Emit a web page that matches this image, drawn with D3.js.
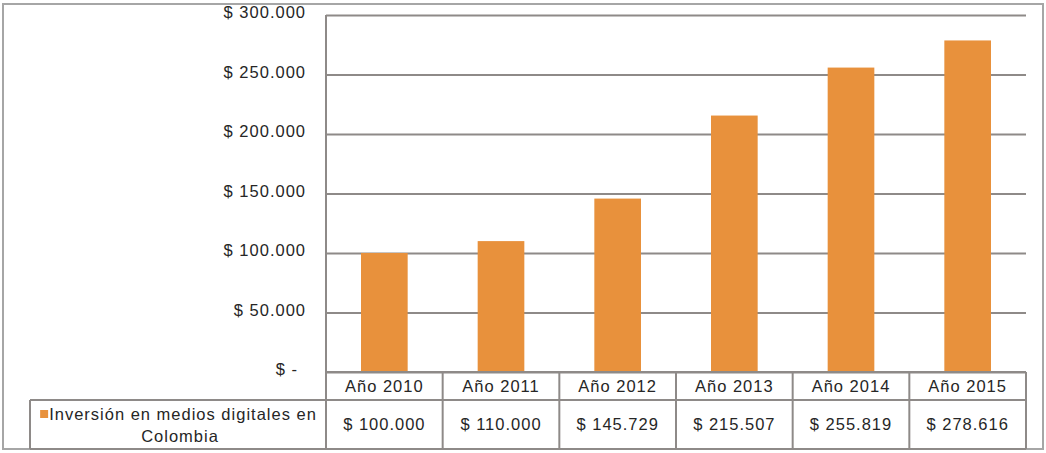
<!DOCTYPE html>
<html>
<head>
<meta charset="utf-8">
<script src="https://cdn.jsdelivr.net/npm/d3@7"></script>
<style>
  body { margin: 0; background: #fff; }
  text { font-family: "Liberation Sans", Arial, sans-serif; fill: #262626; letter-spacing: 1px; }
</style>
</head>
<body>
<svg id="chart" width="1046" height="453"></svg>
<script>
// data
const years = ["Año 2010", "Año 2011", "Año 2012", "Año 2013", "Año 2014", "Año 2015"];
const inversion = [100000, 110000, 145729, 215507, 255819, 278616];
const yTicks = [0, 50000, 100000, 150000, 200000, 250000, 300000];
const seriesName = ["Inversión en medios digitales en", "Colombia"];

const svg = d3.select("#chart");
const margin = { top: 15, left: 326, right: 1026, base: 372 };
const tableMid = 400, tableBottom = 449, legendLeft = 30;
const lineColor = "#8e8a88";
const barColor = "#E8913C";
const fontSize = 16.5;

const locale = d3.formatLocale({ decimal: ",", thousands: ".", grouping: [3], currency: ["$ ", ""] });
const money = locale.format("$,.0f");
const fmt = v => v === 0 ? "$ -" : money(v);

// outer frame
svg.append("rect")
  .attr("x", 3).attr("y", 4)
  .attr("width", 1040).attr("height", 445)
  .attr("fill", "none")
  .attr("stroke", "#a6a6a6")
  .attr("stroke-width", 2);

//scales
const x = d3.scaleBand()
  .domain(years)
  .range([margin.left, margin.right])
  .paddingInner(0.6)
  .paddingOuter(0.3);

const xCell = d3.scaleBand()
  .domain(years)
  .range([margin.left, margin.right]);

const y = d3.scaleLinear()
  .domain([0, 300000])
  .range([margin.base, margin.top]);

// y axis + gridlines
const yAxis = svg.append("g")
  .attr("transform", "translate(" + margin.left + ",0)")
  .call(d3.axisLeft(y)
    .tickValues(yTicks)
    .tickSize(-(margin.right - margin.left))
    .tickPadding(20)
    .tickFormat(fmt));

yAxis.select(".domain").remove();
yAxis.selectAll(".tick line")
  .attr("stroke", lineColor)
  .attr("stroke-width", 2);
yAxis.selectAll(".tick text")
  .attr("font-size", fontSize)
  .attr("dx", d => d === 0 ? -8 : 0)
  .attr("dy", "0.18em")
  .style("fill", "#262626");

// bars
svg.selectAll(".bar")
  .data(inversion)
  .enter()
  .append("rect")
  .attr("class", "bar")
  .attr("x", (d, i) => x(years[i]))
  .attr("y", d => y(d))
  .attr("width", x.bandwidth())
  .attr("height", d => y(0) - y(d))
  .attr("fill", barColor);

// data table
const table = svg.append("g")
  .attr("stroke", lineColor)
  .attr("stroke-width", 2);

// axis line on the left, going down through the table
table.append("line")
  .attr("x1", margin.left).attr("x2", margin.left)
  .attr("y1", margin.top).attr("y2", tableBottom);

// baseline
table.append("line")
  .attr("x1", margin.left).attr("x2", margin.right)
  .attr("y1", y(0)).attr("y2", y(0));

table.append("line")
  .attr("x1", legendLeft).attr("x2", margin.right)
  .attr("y1", tableMid).attr("y2", tableMid);

table.append("line")
  .attr("x1", legendLeft).attr("x2", margin.right)
  .attr("y1", tableBottom).attr("y2", tableBottom);

table.append("line")
  .attr("x1", legendLeft).attr("x2", legendLeft)
  .attr("y1", tableMid).attr("y2", tableBottom);

table.selectAll(".divider")
  .data(years)
  .enter()
  .append("line")
  .attr("class", "divider")
  .attr("x1", d => xCell(d) + xCell.bandwidth())
  .attr("x2", d => xCell(d) + xCell.bandwidth())
  .attr("y1", y(0))
  .attr("y2", tableBottom);

// year labels
svg.selectAll(".year")
  .data(years)
  .enter()
  .append("text")
  .attr("class", "year")
  .attr("x", d => xCell(d) + xCell.bandwidth() / 2)
  .attr("y", (y(0) + tableMid) / 2)
  .attr("dy", "0.36em")
  .attr("text-anchor", "middle")
  .attr("font-size", fontSize)
  .text(d => d);

// values
svg.selectAll(".val")
  .data(inversion)
  .enter()
  .append("text")
  .attr("class", "val")
  .attr("x", (d, i) => xCell(years[i]) + xCell.bandwidth() / 2)
  .attr("y", (tableMid + tableBottom) / 2)
  .attr("dy", "0.36em")
  .attr("text-anchor", "middle")
  .attr("font-size", fontSize)
  .text(d => money(d));

// legend cell
const legCx = (legendLeft + margin.left) / 2;
const leg = svg.append("text")
  .attr("x", legCx)
  .attr("y", 415)
  .attr("text-anchor", "middle")
  .attr("font-size", fontSize);
leg.append("tspan")
  .attr("x", legCx + 5)
  .attr("dy", "0.3em")
  .text(seriesName[0]);
leg.append("tspan")
  .attr("x", legCx + 2)
  .attr("dy", "1.35em")
  .text(seriesName[1]);

const firstLine = leg.select("tspan").node().getBBox();
svg.append("rect")
  .attr("x", firstLine.x - 9)
  .attr("y", 410)
  .attr("width", 8).attr("height", 8)
  .attr("fill", barColor);
</script>
</body>
</html>
